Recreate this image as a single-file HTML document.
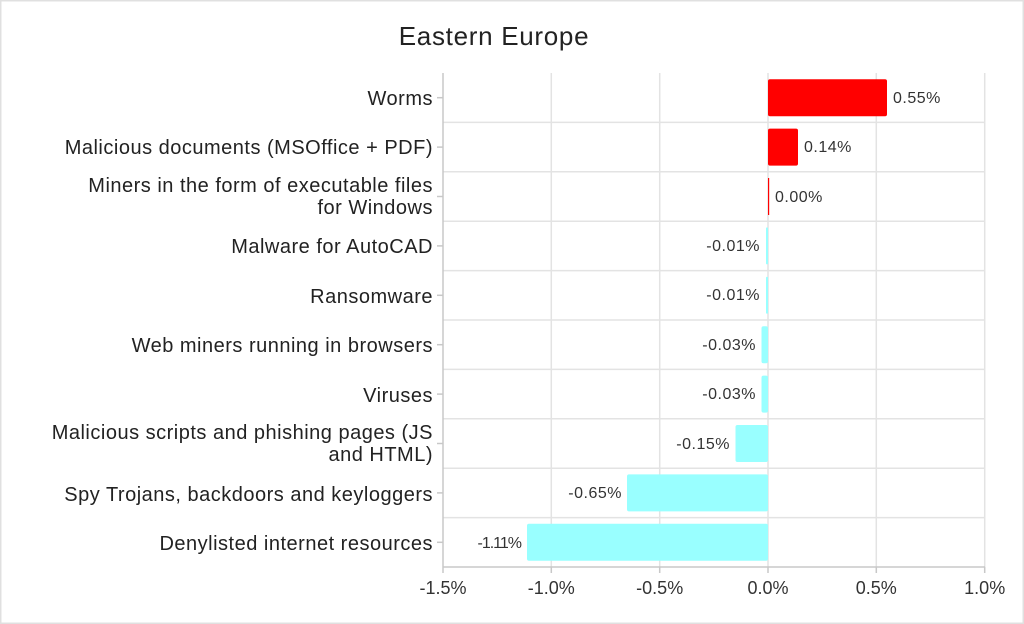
<!DOCTYPE html>
<html><head><meta charset="utf-8"><style>
html,body{margin:0;padding:0;background:#fff}
svg{display:block;font-family:"Liberation Sans",sans-serif}
</style></head><body>
<svg width="1024" height="624" viewBox="0 0 1024 624" xmlns="http://www.w3.org/2000/svg">
<rect x="0.75" y="0.75" width="1022.5" height="622.5" fill="#fff" stroke="#e0e0e0" stroke-width="1.5"/>
<text x="494" y="45" font-size="26" letter-spacing="0.7" fill="#222" text-anchor="middle">Eastern Europe</text>
<g stroke="#e3e3e3" stroke-width="1.5">
<line x1="551.3" y1="73" x2="551.3" y2="567"/>
<line x1="659.7" y1="73" x2="659.7" y2="567"/>
<line x1="768" y1="73" x2="768" y2="567"/>
<line x1="876.3" y1="73" x2="876.3" y2="567"/>
<line x1="984.7" y1="73" x2="984.7" y2="567"/>
<line x1="443" y1="122.4" x2="985" y2="122.4"/>
<line x1="443" y1="171.8" x2="985" y2="171.8"/>
<line x1="443" y1="221.2" x2="985" y2="221.2"/>
<line x1="443" y1="270.6" x2="985" y2="270.6"/>
<line x1="443" y1="320" x2="985" y2="320"/>
<line x1="443" y1="369.4" x2="985" y2="369.4"/>
<line x1="443" y1="418.8" x2="985" y2="418.8"/>
<line x1="443" y1="468.2" x2="985" y2="468.2"/>
<line x1="443" y1="517.6" x2="985" y2="517.6"/>
</g>
<g stroke="#c8c8c8" stroke-width="1.5">
<line x1="443" y1="73" x2="443" y2="567"/>
<line x1="443" y1="567" x2="985" y2="567"/>
<line x1="443" y1="567" x2="443" y2="573"/>
<line x1="551.3" y1="567" x2="551.3" y2="573"/>
<line x1="659.7" y1="567" x2="659.7" y2="573"/>
<line x1="768" y1="567" x2="768" y2="573"/>
<line x1="876.3" y1="567" x2="876.3" y2="573"/>
<line x1="984.7" y1="567" x2="984.7" y2="573"/>
<line x1="437" y1="97.7" x2="443" y2="97.7"/>
<line x1="437" y1="147.1" x2="443" y2="147.1"/>
<line x1="437" y1="196.5" x2="443" y2="196.5"/>
<line x1="437" y1="245.9" x2="443" y2="245.9"/>
<line x1="437" y1="295.3" x2="443" y2="295.3"/>
<line x1="437" y1="344.7" x2="443" y2="344.7"/>
<line x1="437" y1="394.1" x2="443" y2="394.1"/>
<line x1="437" y1="443.5" x2="443" y2="443.5"/>
<line x1="437" y1="492.9" x2="443" y2="492.9"/>
<line x1="437" y1="542.3" x2="443" y2="542.3"/>
</g>
<g>
<rect x="768" y="79.2" width="119" height="37" rx="2" fill="#ff0000"/>
<rect x="768" y="128.6" width="30" height="37" rx="2" fill="#ff0000"/>
<rect x="768" y="178" width="1.2" height="37" fill="#ff0000"/>
<rect x="766" y="227.4" width="2" height="37" rx="1" fill="#99ffff"/>
<rect x="766" y="276.8" width="2" height="37" rx="1" fill="#99ffff"/>
<rect x="761.5" y="326.2" width="6.5" height="37" rx="2" fill="#99ffff"/>
<rect x="761.5" y="375.6" width="6.5" height="37" rx="2" fill="#99ffff"/>
<rect x="735.5" y="425" width="32.5" height="37" rx="2" fill="#99ffff"/>
<rect x="627" y="474.4" width="141" height="37" rx="2" fill="#99ffff"/>
<rect x="527" y="523.8" width="241" height="37" rx="2" fill="#99ffff"/>
</g>
<g font-size="16" letter-spacing="0.5" fill="#333">
<text x="893" y="103">0.55%</text>
<text x="804" y="152">0.14%</text>
<text x="775" y="202">0.00%</text>
<text x="760" y="251" text-anchor="end">-0.01%</text>
<text x="760" y="300" text-anchor="end">-0.01%</text>
<text x="756" y="350" text-anchor="end">-0.03%</text>
<text x="756" y="399" text-anchor="end">-0.03%</text>
<text x="730" y="449" text-anchor="end">-0.15%</text>
<text x="622" y="498" text-anchor="end">-0.65%</text>
<text x="521" y="548" text-anchor="end" letter-spacing="-1">-1.11%</text>
</g>
<g font-size="20" letter-spacing="0.5" fill="#222" text-anchor="end">
<text x="433" y="105">Worms</text>
<text x="433" y="154">Malicious documents (MSOffice + PDF)</text>
<text x="433" y="192">Miners in the form of executable files</text>
<text x="433" y="214">for Windows</text>
<text x="433" y="253">Malware for AutoCAD</text>
<text x="433" y="303">Ransomware</text>
<text x="433" y="352">Web miners running in browsers</text>
<text x="433" y="402">Viruses</text>
<text x="433" y="439">Malicious scripts and phishing pages (JS</text>
<text x="433" y="461">and HTML)</text>
<text x="433" y="501">Spy Trojans, backdoors and keyloggers</text>
<text x="433" y="550">Denylisted internet resources</text>
</g>
<g font-size="18" fill="#333" text-anchor="middle">
<text x="443" y="594">-1.5%</text>
<text x="551.3" y="594">-1.0%</text>
<text x="659.7" y="594">-0.5%</text>
<text x="768" y="594">0.0%</text>
<text x="876.3" y="594">0.5%</text>
<text x="984.7" y="594">1.0%</text>
</g>
</svg>
</body></html>
